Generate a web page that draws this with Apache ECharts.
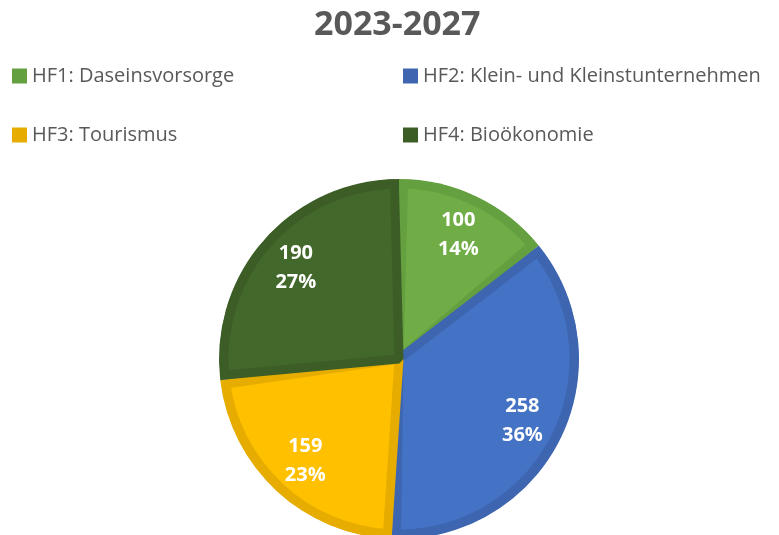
<!DOCTYPE html>
<html><head><meta charset="utf-8">
<script src="https://cdn.jsdelivr.net/npm/echarts@6/dist/echarts.min.js"></script>
<style>html,body{margin:0;padding:0;background:#fff}#c{width:779px;height:535px}</style>
</head><body><div id="c"></div>
<script>
const categories = ['HF1: Daseinsvorsorge', 'HF2: Klein- und Kleinstunternehmen', 'HF3: Tourismus', 'HF4: Bioökonomie'];
const values = [100, 258, 159, 190];
const percentLabels = ['14%', '36%', '23%', '27%'];
const fillColors = ['#70AD47', '#4472C4', '#FFC000', '#43682B'];
const borderColors = ['#64A03F', '#3E66B0', '#E6AD00', '#3C5E26'];
const titleText = '2023-2027';

const font = '"Open Sans", "Noto Sans", sans-serif';
const chart = echarts.init(document.getElementById('c'), null, {renderer: 'canvas'});
const baseData = categories.map((n, i) => ({
  name: n, value: values[i],
  itemStyle: {color: borderColors[i]}
}));
const topData = categories.map((n, i) => ({
  name: n, value: values[i],
  itemStyle: {color: fillColors[i], borderColor: borderColors[i]}
}));
const labelData = categories.map((n, i) => ({
  name: n, value: values[i],
  label: {formatter: values[i] + '\n' + percentLabels[i]}
}));
const legendText = {fontFamily: font, fontSize: 20, color: '#595959'};
chart.setOption({
  animation: false,
  color: borderColors,
  title: {text: titleText, left: 309, top: 3,
    textStyle: {fontFamily: font, fontSize: 34, fontWeight: 'bold', color: '#595959'}},
  legend: [
    {data: [categories[0], categories[2]], orient: 'vertical', left: 7, top: 61,
     itemWidth: 15, itemHeight: 15, itemGap: 39, textStyle: legendText, icon: 'rect'},
    {data: [categories[1], categories[3]], orient: 'vertical', left: 398, top: 61,
     itemWidth: 15, itemHeight: 15, itemGap: 39, textStyle: legendText, icon: 'rect'}
  ],
  series: [
    {type: 'pie', center: [399, 359], radius: 180, startAngle: 90, clockwise: true,
     data: baseData, silent: true,
     itemStyle: {borderWidth: 0},
     label: {show: false}, labelLine: {show: false}},
    {type: 'pie', center: [399, 359], radius: 175, startAngle: 90, clockwise: true,
     padAngle: 3, data: topData, silent: true, legendHoverLink: false,
     itemStyle: {borderWidth: 9, borderJoin: 'bevel'},
     label: {show: false}, labelLine: {show: false}},
    {type: 'pie', center: [399, 359], radius: [90, 180], startAngle: 90, clockwise: true,
     data: labelData, silent: true, legendHoverLink: false,
     itemStyle: {color: 'rgba(0,0,0,0)', borderWidth: 0},
     label: {show: true, position: 'inside', color: '#fff', fontFamily: font,
       fontSize: 20, fontWeight: 'bold', lineHeight: 29},
     labelLine: {show: false}}
  ]
});
</script></body></html>
